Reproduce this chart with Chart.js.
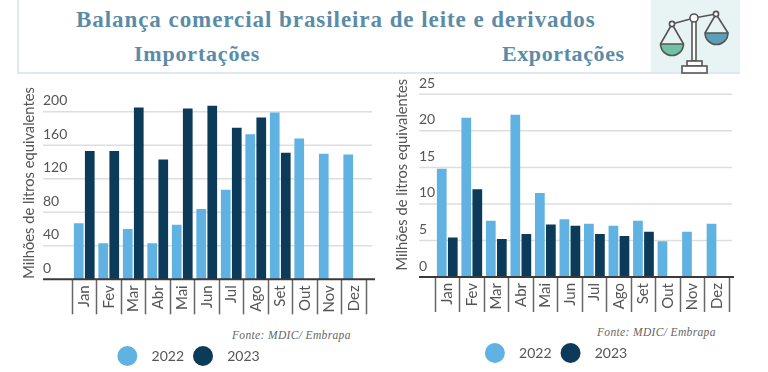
<!DOCTYPE html>
<html lang="pt-BR">
<head>
<meta charset="utf-8">
<title>Balança comercial brasileira de leite e derivados</title>
<script src="https://cdn.jsdelivr.net/npm/chart.js@4"></script>
<style>
    html, body { margin: 0; padding: 0; background: #fff; width: 768px; height: 372px; overflow: hidden; }
    .abs { position: absolute; }
    .head { font-family: "Liberation Serif", serif; font-weight: 700; color: #5a8ca8; white-space: nowrap; }
    .fonte { font-family: "Liberation Serif", serif; font-style: italic; font-size: 11.5px; color: #666; white-space: nowrap; letter-spacing: 0.35px; }
    canvas { position: absolute; }
</style>
</head>
<body>
<div class="abs" style="left:17px;top:0;width:1px;height:73px;background:#dfe8f0;border-left:1px solid #dfe8f0"></div>
<div class="abs" style="left:17px;top:72px;width:723px;height:2px;background:#dfe8f0"></div>
<div class="abs" style="left:651px;top:0;width:89px;height:72px;background:#e8f3f3"></div>
<svg class="abs" style="left:640px;top:0" width="128" height="80" viewBox="640 0 128 80" fill="none" stroke="#555" stroke-width="1.6">
    <path d="M660.5 44 A11.5 11.5 0 0 0 683.5 44 Z" fill="#6fc2a5"/>
    <path d="M705 33 A11.5 11.5 0 0 0 728 33 Z" fill="#5b9fb8"/>
    <path d="M672 24 L660.5 44 M672 24 L683.5 44 M716 14 L705 33 M716 14 L728 33"/>
    <path d="M672 24 L694 18 M694 18 L716 14" stroke-width="1.4"/>
    <rect x="692" y="20" width="4" height="41" fill="#fff"/>
    <rect x="687" y="61" width="15" height="5" fill="#fff"/>
    <rect x="682" y="66" width="25" height="7" fill="#fff"/>
    <circle cx="694" cy="18" r="4" fill="#fff"/>
    <circle cx="672" cy="24" r="2.6" fill="#fff"/>
    <circle cx="716" cy="14" r="2.6" fill="#fff"/>
</svg>
<div class="abs head" style="left:76px;top:7px;font-size:23px;letter-spacing:0.94px">Balança comercial brasileira de leite e derivados</div>
<div class="abs head" style="left:134px;top:41px;font-size:22px;letter-spacing:0.8px">Importações</div>
<div class="abs head" style="left:502px;top:41px;font-size:22px;letter-spacing:0.6px">Exportações</div>
<div class="abs fonte" style="left:232px;top:329px">Fonte: MDIC/ Embrapa</div>
<div class="abs fonte" style="left:597px;top:326px">Fonte: MDIC/ Embrapa</div>

<canvas id="importChart" style="left:0;top:60px"></canvas>
<canvas id="exportChart" style="left:372px;top:60px"></canvas>

<script>
const months = ['Jan', 'Fev', 'Mar', 'Abr', 'Mai', 'Jun', 'Jul', 'Ago', 'Set', 'Out', 'Nov', 'Dez'];
const seriesNames = ['2022', '2023'];

const import2022 = [67, 43, 60, 43, 65, 84, 107, 173, 199, 168, 150, 149];
const import2023 = [153, 153, 205, 143, 204, 207, 181, 193, 151, null, null, null];

const export2022 = [14.8, 21.8, 7.7, 22.2, 11.5, 7.9, 7.3, 7.0, 7.7, 4.9, 6.2, 7.3];
const export2023 = [5.4, 12.0, 5.2, 5.9, 7.2, 7.0, 5.9, 5.6, 6.2, null, null, null];

const COLOR_2022 = '#5fb2e1';
const COLOR_2023 = '#0b3b59';
const TEXT = '#555';
const FONT = { family: 'Lato', size: 14 };
const X_FONT = { family: 'Lato', size: 15 };
const TITLE_FONT = { family: 'Lato', size: 14.7 };

// grid lines run past the plot on both sides, baseline is heavier
const axisLines = {
    id: 'axisLines',
    afterLayout(chart, args, opts) {
        // legend is not centred on the canvas in the original
        chart.legend.left += opts.legendShift;
        chart.legend.right += opts.legendShift;
    },
    beforeDatasetsDraw(chart, args, opts) {
        const { ctx } = chart;
        const y = chart.scales.y;
        ctx.save();
        ctx.strokeStyle = '#dedede';
        ctx.lineWidth = 1.5;
        y.ticks.forEach(t => {
            if (t.value === 0) return;
            const py = y.getPixelForValue(t.value);
            ctx.beginPath();
            ctx.moveTo(opts.gridLeft, py);
            ctx.lineTo(opts.gridRight, py);
            ctx.stroke();
        });
        ctx.restore();
    },
    afterDatasetsDraw(chart, args, opts) {
        const { ctx } = chart;
        const py = chart.scales.y.getPixelForValue(0);
        ctx.save();
        ctx.strokeStyle = '#3a3a3a';
        ctx.lineWidth = 2;
        ctx.beginPath();
        ctx.moveTo(opts.gridLeft, py);
        ctx.lineTo(opts.baseRight, py);
        ctx.stroke();
        ctx.restore();
    }
};

function makeChart(id, w, h, values2022, values2023, cfg) {
    const canvas = document.getElementById(id);
    canvas.style.width = w + 'px';
    canvas.style.height = h + 'px';
    canvas.width = w;
    canvas.height = h;
    return new Chart(canvas.getContext('2d'), {
        type: 'bar',
        data: {
            labels: months,
            datasets: [
                { label: seriesNames[0], data: values2022, backgroundColor: COLOR_2022, categoryPercentage: 0.9, barPercentage: 0.88 },
                { label: seriesNames[1], data: values2023, backgroundColor: COLOR_2023, categoryPercentage: 0.9, barPercentage: 0.88 }
            ]
        },
        plugins: [axisLines],
        options: {
            responsive: false,
            animation: false,
            layout: { padding: cfg.padding },
            plugins: {
                tooltip: { enabled: false },
                axisLines: { gridLeft: cfg.gridLeft, gridRight: cfg.gridRight, baseRight: cfg.baseRight, legendShift: cfg.legendShift },
                legend: {
                    position: 'bottom',
                    onClick: null,
                    labels: {
                        usePointStyle: true,
                        pointStyle: 'circle',
                        pointStyleWidth: 20,
                        padding: 9,
                        color: TEXT,
                        font: FONT,
                        generateLabels: chart => Chart.defaults.plugins.legend.labels.generateLabels(chart).map(l => {
                            l.text = '  ' + l.text;
                            l.lineWidth = 0;
                            return l;
                        })
                    }
                }
            },
            scales: {
                x: {
                    afterFit: s => { s.height = cfg.xHeight; },
                    border: { display: false },
                    grid: { drawOnChartArea: false, tickLength: 35, tickColor: '#666', tickWidth: 1.5 },
                    ticks: { autoSkip: false, minRotation: 90, maxRotation: 90, padding: -29, color: TEXT, font: X_FONT }
                },
                y: {
                    min: 0,
                    max: cfg.max,
                    afterFit: s => { s.width = cfg.yWidth; },
                    border: { display: false },
                    grid: { display: false },
                    title: { display: true, text: 'Milhões de litros equivalentes', color: TEXT, font: TITLE_FONT, padding: 0 },
                    ticks: {
                        stepSize: cfg.step,
                        includeBounds: false,
                        mirror: true,
                        crossAlign: 'near',
                        padding: cfg.labelPad,
                        labelOffset: -11,
                        color: TEXT,
                        font: FONT
                    }
                }
            }
        }
    });
}

makeChart('importChart', 376, 313, import2022, import2023, {
    padding: { left: 20, right: 10, top: 26.6, bottom: 0 },
    xHeight: 60.7, yWidth: 52, labelPad: -29,
    max: 230, step: 40, legendShift: -4.5,
    gridLeft: 43, gridRight: 372, baseRight: 375
});

makeChart('exportChart', 362, 310, export2022, export2023, {
    padding: { left: 21.6, right: 4.7, top: 12.4, bottom: 0 },
    xHeight: 60, yWidth: 41.4, labelPad: -16,
    max: 28, step: 5, legendShift: -5.4,
    gridLeft: 47, gridRight: 360, baseRight: 362
});
</script>
</body>
</html>
